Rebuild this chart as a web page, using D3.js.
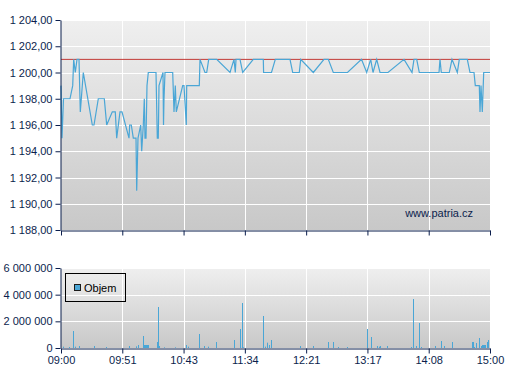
<!DOCTYPE html>
<html>
<head>
<meta charset="utf-8">
<script src="https://cdn.jsdelivr.net/npm/d3@7"></script>
<style>
body { margin: 0; background: #fff; }
text { font-family: Arial, "Liberation Sans", sans-serif; font-size: 11px; fill: #0b1e4d; }
</style>
</head>
<body>
<div id="chart"></div>
<script>
// x axis is trade sequence, ticks evenly spaced and labelled with the time
const timeLabels = ["09:00", "09:51", "10:43", "11:34", "12:21", "13:17", "14:08", "15:00"];
const seqMax = 429;

const priceTicks = [1188, 1190, 1192, 1194, 1196, 1198, 1200, 1202, 1204];
const refPrice = 1201;

const priceSeq = [0, 1, 2.5, 9, 11.7, 12.7, 14.3, 16, 18, 19.3, 22.3, 31.3, 33, 37.3, 43.3, 45.7, 51.3, 54.3, 55.7, 59,
  61, 68, 68.7, 70.3, 72.3, 75, 75.7, 77, 79.7, 80.7, 82.3, 83.3, 84, 85, 86, 87.3, 95, 96.3, 97.3, 98,
  102, 102.5, 103, 104, 111.7, 113, 114.3, 115.3, 121.7, 123, 125.3, 125.7, 138.3, 139, 144, 145.7, 147.7, 155.7, 169, 173,
  174.3, 175, 179, 181.7, 192.3, 202.3, 202.6, 210.5, 214.3, 229, 231.7, 238.3, 239.7, 252.3, 263, 267.3, 272.3, 286.5, 300.5, 305.7,
  309.7, 312, 315.7, 319, 327, 343, 351, 353, 355.7, 358.3, 378, 379, 380.3, 388.3, 391, 396.3, 398.3, 406.3,
  409, 413, 414.3, 418.3, 419, 420, 421.3, 422.7, 429];
const priceValues = [1199, 1195, 1198, 1198, 1199, 1201, 1200, 1201, 1201, 1197, 1200, 1196, 1196, 1198, 1198, 1196, 1197, 1197, 1195, 1197,
  1197, 1195, 1196, 1196, 1195, 1195, 1191, 1195, 1196, 1194, 1196, 1198, 1195, 1195, 1199, 1200, 1200, 1195, 1195, 1199,
  1200, 1196, 1198, 1200, 1200, 1197, 1199, 1197, 1199, 1199, 1196, 1199, 1199, 1201, 1200, 1200, 1201, 1201, 1200, 1201,
  1200, 1201, 1201, 1200, 1201, 1201, 1200, 1200, 1201, 1201, 1200, 1200, 1201, 1200, 1201, 1201, 1200, 1200, 1201, 1200,
  1201, 1200, 1201, 1200, 1200, 1201, 1200, 1201, 1201, 1200, 1200, 1201, 1200, 1200, 1201, 1200, 1201, 1201,
  1200, 1200, 1199, 1199, 1197, 1199, 1197, 1200, 1200];

const volumeTicks = [0, 2000000, 4000000, 6000000];
const volumeSeq = [2, 8.7, 12.3, 14.3, 18.3, 33, 45.7, 68.3, 75, 77.3, 82.3, 83.3, 84.3, 85.3, 86.3, 87.3, 96.3, 97.3, 98.7, 103,
  114.3, 125.7, 127, 138.3, 143.7, 147.3, 155.3, 173.7, 179.3, 181.3, 182.3, 202.3, 204.3, 206, 208.3, 210.3, 239.3, 252.3, 267.3, 272.3,
  277.3, 286.3, 306.3, 310.3, 316.3, 318, 319.3, 326.3, 350.7, 352.3, 355.3, 358.3, 360.3, 374.3, 380.3, 383.3, 391.3, 411.3, 412.3, 413.3,
  415.3, 418.3, 420, 421, 422, 423, 424, 426.3, 427.3];
const volumeValues = [100000, 75000, 1275000, 100000, 150000, 150000, 75000, 150000, 125000, 225000, 900000, 225000, 225000, 225000, 225000, 225000, 450000, 3075000, 150000, 50000,
  50000, 225000, 100000, 1050000, 150000, 100000, 450000, 600000, 1425000, 3375000, 50000, 2400000, 100000, 400000, 225000, 600000, 150000, 150000, 450000, 450000,
  75000, 75000, 1425000, 825000, 150000, 100000, 150000, 150000, 75000, 3675000, 150000, 1875000, 75000, 150000, 525000, 150000, 450000, 450000, 450000, 75000,
  375000, 750000, 150000, 225000, 225000, 225000, 225000, 450000, 600000];

const navy = "#0b1e4d";
const blue = "#4aa6d6";

const svg = d3.select("#chart")
  .append("svg")
  .attr("width", 507)
  .attr("height", 380);

const grad = svg.append("defs").append("linearGradient")
  .attr("id", "bg")
  .attr("x1", 0).attr("y1", 0).attr("x2", 0).attr("y2", 1);
grad.append("stop").attr("offset", "0%").attr("stop-color", "#efefef");
grad.append("stop").attr("offset", "100%").attr("stop-color", "#c8c8c8");

const left = 61, right = 490;
const x = d3.scaleLinear().domain([0, seqMax]).range([left, right]);
const tickSeq = timeLabels.map((t, i) => i * seqMax / (timeLabels.length - 1));

const yPrice = d3.scaleLinear().domain([1188, 1204]).range([230, 20]);
const yVol = d3.scaleLinear().domain([0, 6000000]).range([348, 268]);

const locale = d3.formatLocale({ decimal: ",", thousands: " ", grouping: [3], currency: ["", ""] });
const fmtPrice = locale.format(",.2f");
const fmtVol = locale.format(",d");

// panel backgrounds + grid
function panel(y, ticks) {
  const [y0, y1] = [y.range()[1], y.range()[0]];
  svg.append("rect")
    .attr("x", left).attr("y", y0)
    .attr("width", right - left).attr("height", y1 - y0)
    .attr("fill", "url(#bg)");

  svg.append("g").selectAll("line")
    .data(ticks.slice(1))
    .join("line")
    .attr("x1", left).attr("x2", right)
    .attr("y1", d => Math.round(y(d)) + 0.5).attr("y2", d => Math.round(y(d)) + 0.5)
    .attr("stroke", "#fff");

  svg.append("g").selectAll("line")
    .data(tickSeq.slice(1, -1))
    .join("line")
    .attr("x1", d => Math.round(x(d)) + 0.5).attr("x2", d => Math.round(x(d)) + 0.5)
    .attr("y1", y0).attr("y2", y1)
    .attr("stroke", "#fff");
}

panel(yPrice, priceTicks);
panel(yVol, volumeTicks);

// watermark
svg.append("text")
  .attr("x", 473).attr("y", 217)
  .attr("text-anchor", "end")
  .text("www.patria.cz");

// reference line
svg.append("line")
  .attr("x1", left).attr("x2", right)
  .attr("y1", yPrice(refPrice)).attr("y2", yPrice(refPrice))
  .attr("stroke", "#c23a36")
  .attr("stroke-width", 1);

// price line
const priceData = priceSeq.map((s, i) => ({ seq: s, value: priceValues[i] }));
svg.append("path")
  .datum(priceData)
  .attr("fill", "none")
  .attr("stroke", blue)
  .attr("stroke-width", 1.2)
  .attr("d", d3.line().x(d => x(d.seq)).y(d => yPrice(d.value)));

// volume bars
const volData = volumeSeq.map((s, i) => ({ seq: s, value: volumeValues[i] }));
svg.append("g").selectAll("rect")
  .data(volData)
  .join("rect")
  .attr("x", d => Math.floor(x(d.seq)))
  .attr("width", 1)
  .attr("y", d => yVol(d.value))
  .attr("height", d => yVol(0) - yVol(d.value))
  .attr("fill", blue);

// axes
svg.append("g")
  .attr("transform", `translate(${left - 0.5},0)`)
  .attr("color", navy)
  .call(d3.axisLeft(yPrice).tickValues(priceTicks).tickFormat(fmtPrice).tickSize(5).tickSizeOuter(0));

svg.append("g")
  .attr("transform", "translate(0,230.5)")
  .attr("color", navy)
  .call(d3.axisBottom(x).tickValues(tickSeq).tickFormat("").tickSize(5).tickSizeOuter(0));

svg.append("g")
  .attr("transform", `translate(${left - 0.5},0)`)
  .attr("color", navy)
  .call(d3.axisLeft(yVol).tickValues(volumeTicks).tickFormat(fmtVol).tickSize(5).tickSizeOuter(0));

svg.append("g")
  .attr("transform", "translate(0,348.5)")
  .attr("color", navy)
  .call(d3.axisBottom(x).tickValues(tickSeq).tickFormat((d, i) => timeLabels[i]).tickSize(5).tickSizeOuter(0));

// legend
const legend = svg.append("g");
legend.append("rect")
  .attr("x", 65.5).attr("y", 273.5)
  .attr("width", 60).attr("height", 28)
  .attr("fill", "none")
  .attr("stroke", "#000");
legend.append("rect")
  .attr("x", 74.5).attr("y", 284.5)
  .attr("width", 6).attr("height", 6)
  .attr("fill", blue)
  .attr("stroke", "#1a1a1a");
legend.append("text")
  .attr("x", 84).attr("y", 292)
  .style("fill", "#000")
  .text("Objem");
</script>
</body>
</html>
